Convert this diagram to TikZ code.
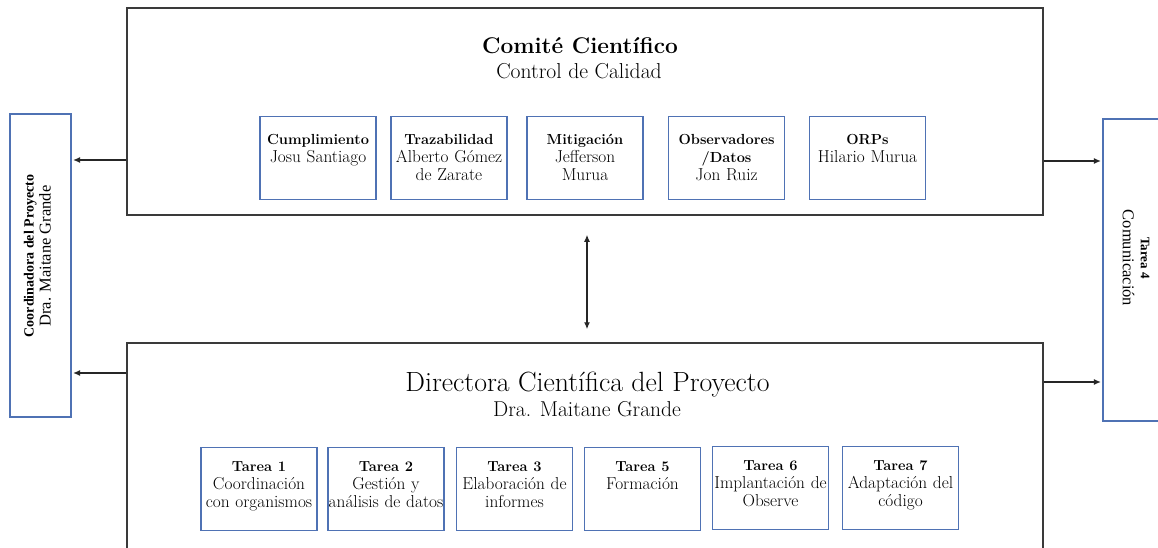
\documentclass[tikz,border=0pt]{standalone}
\usepackage{fontspec}
\newfontfamily\timesfont{Liberation Serif}
\usetikzlibrary{arrows.meta}
\definecolor{cellblue}{HTML}{4F72B4}
\definecolor{boxgray}{HTML}{3A3A3A}
\newcommand\cellhead[1]{{\fontsize{14.6}{18}\selectfont\bfseries #1}}
\tikzset{
  bigbox/.style={draw=boxgray, line width=1.5pt, minimum width=916pt, inner sep=0pt},
  cell/.style={draw=cellblue, line width=1.1pt, anchor=north, text width=116pt, align=center,
    inner xsep=0pt, inner ysep=0pt, text height=28pt, text depth=55pt,
    font=\fontsize{17.3}{18}\selectfont},
  taskcell/.style={cell, text height=24pt, text depth=59pt},
  sidebox/.style={draw=cellblue, line width=1.1pt, inner sep=0pt},
  arr/.style={-{Latex[length=7pt,width=6pt]}, line width=1.3pt, draw=black!85, shorten >=1.5pt},
}

\begin{document}
\begin{tikzpicture}[x=1pt, y=-1pt]
  \fill[white] (0,0) rectangle (1158,548);
  \useasboundingbox (0,0) rectangle (1158,548);
  \node (comite) at (585, 111.5) [bigbox, minimum height=207pt] {};
  \node (directora) at (585, 463) [bigbox, minimum height=240pt] {};
  \node (comtitle) at (580, 54) [anchor=base, font=\fontsize{22.7}{26}\selectfont\bfseries] {Comité Científico};
  \node (comsub) at (579, 79) [anchor=base, font=\fontsize{21.6}{24}\selectfont] {Control de Calidad};
  \node (dirtitle) at (587.5, 391) [anchor=base, font=\fontsize{27.8}{30}\selectfont] {Directora Científica del Proyecto};
  \node (dirsub) at (587, 416) [anchor=base, font=\fontsize{21.5}{24}\selectfont] {Dra. Maitane Grande};
  \node (cumpl) at (318, 116) [cell] {\cellhead{Cumplimiento}\\Josu Santiago};
  \node (traza) at (449, 116) [cell] {\cellhead{Trazabilidad}\\Alberto Gómez\\de Zarate};
  \node (mitig) at (585, 116) [cell] {\cellhead{Mitigación}\\Jefferson\\Murua};
  \node (obser) at (726.5, 116) [cell] {\cellhead{Observadores}\\\cellhead{/Datos}\\Jon Ruiz};
  \node (orps) at (867.5, 116) [cell] {\cellhead{ORPs}\\Hilario Murua};
  \node (tarea1) at (259, 447) [taskcell] {\cellhead{Tarea 1}\\Coordinación\\con organismos};
  \node (tarea2) at (386, 447) [taskcell] {\cellhead{Tarea 2}\\Gestión y\\análisis de datos};
  \node (tarea3) at (514.5, 447) [taskcell] {\cellhead{Tarea 3}\\Elaboración de\\informes};
  \node (tarea5) at (642.5, 447) [taskcell] {\cellhead{Tarea 5}\\Formación};
  \node (tarea6) at (770.5, 446) [taskcell] {\cellhead{Tarea 6}\\Implantación de\\Observe};
  \node (tarea7) at (900.5, 446) [taskcell] {\cellhead{Tarea 7}\\Adaptación del\\código};
  \node (coord) at (40.5, 265.5) [sidebox, minimum width=61pt, minimum height=303pt] {};
  \node (coordtext) at (37.5, 256) [rotate=90, align=center, font=\timesfont\fontsize{16.5}{17}\selectfont]
    {{\fontsize{14}{17}\selectfont\bfseries Coordinadora del Proyecto}\\Dra. Maitane Grande};
  \node (tarea4) at (1138, 270) [sidebox, minimum width=70pt, minimum height=302pt] {};
  \node (tarea4text) at (1136, 258) [rotate=-90, align=center, font=\timesfont\fontsize{16.5}{18}\selectfont]
    {{\fontsize{13}{18}\selectfont\bfseries Tarea 4}\\Comunicación};
  \draw[arr] (comite.west |- 0,160) -- (coord.east |- 0,160);
  \draw[arr] (comite.east |- 0,161) -- (tarea4.west |- 0,161);
  \draw[arr] (directora.west |- 0,373) -- (coord.east |- 0,373);
  \draw[arr] (directora.east |- 0,382) -- (tarea4.west |- 0,382);
  \draw[arr, {Latex[length=7pt,width=6pt]}-{Latex[length=7pt,width=6pt]}, shorten <=19pt, shorten >=13pt]
    (comite.south -| 587,0) -- (directora.north -| 587,0);
\end{tikzpicture}
\end{document}
